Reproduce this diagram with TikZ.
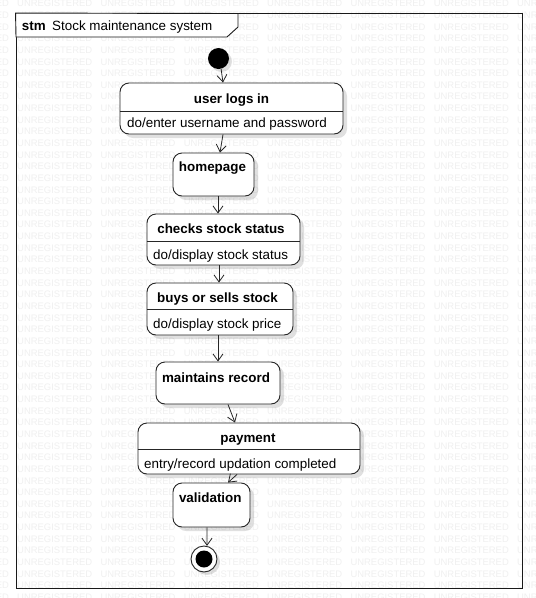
\documentclass[tikz,border=0pt]{standalone}
\usepackage{fontspec}
\setmainfont{Liberation Sans}
\usetikzlibrary{arrows.meta,shadows,calc}
\tikzset{
  statebox/.style={draw=black!85, line width=0.9pt, fill=white, rounded corners=9pt, inner sep=0pt,
    drop shadow={shadow xshift=4pt, shadow yshift=-4pt, opacity=0.12, fill=black}},
  divline/.style={draw=black!85, line width=0.8pt},
  ttl/.style={font=\bfseries\fontsize{13.4}{16}\selectfont, anchor=base, inner sep=0pt},
  bdy/.style={font=\fontsize{13.4}{16}\selectfont, anchor=base west, inner sep=0pt},
  tr/.style={draw=black!85, line width=0.8pt, -{Straight Barb[length=7pt,width=10pt,line width=0.8pt]}},
  wm/.style={font=\fontsize{9.44}{10}\selectfont, text=black!6, anchor=base west, inner sep=0pt},
  framebox/.style={draw=black!90, line width=0.9pt},
}
\begin{document}
\begin{tikzpicture}[x=1pt,y=-1pt]
\useasboundingbox (0,0) rectangle (536,598);
\fill[white] (0,0) rectangle (536,598);
% watermark
\foreach \j in {0,...,51} {
  \foreach \i in {-1,...,6} {
    \node[wm] (wm-\i-\j) at ({17+83.33*\i},{6.8+11.64*\j}) {UNREGISTERED};
  }
}
% frame
\node[framebox, minimum width=506pt, minimum height=574.5pt, inner sep=0pt] (frame) at (269,300.75) {};
\draw[framebox, fill=white] (frame.north west) -- (238,13.5) -- (238,27) -- (227,37) -- (16,37) -- cycle;
\node[anchor=base west, inner sep=0pt, font=\bfseries\fontsize{13.4}{16}\selectfont] (stm) at (21.7,30.7) {stm};
\node[anchor=base west, inner sep=0pt, font=\fontsize{13.4}{16}\selectfont] (ftitle) at (52,30.7) {Stock maintenance system};
% initial
\node[circle, fill=black, minimum size=21pt, inner sep=0pt,
  drop shadow={shadow xshift=3pt, shadow yshift=-3pt, opacity=0.12, fill=black}] (init) at (218.5,58.5) {};
% states
\node[statebox, minimum width=223pt, minimum height=51pt] (ulogin) at (231.5,108.5) {};
\draw[divline] ($(ulogin.north west)+(0,29)$) -- ($(ulogin.north east)+(0,29)$);
\node[ttl] (ulogin-t) at (231.5,103) {user logs in};
\node[bdy] (ulogin-b) at (127,127) {do/enter username and password};

\node[statebox, minimum width=81pt, minimum height=43pt] (home) at (213.5,174.5) {};
\node[ttl] (home-t) at (212.5,171.5) {homepage};

\node[statebox, minimum width=153pt, minimum height=51pt] (checks) at (223.5,239.5) {};
\draw[divline] ($(checks.north west)+(0,28)$) -- ($(checks.north east)+(0,28)$);
\node[ttl] (checks-t) at (221,233.3) {checks stock status};
\node[bdy] (checks-b) at (153,259) {do/display stock status};

\node[statebox, minimum width=146pt, minimum height=52pt] (buys) at (220,309) {};
\draw[divline] ($(buys.north west)+(0,27)$) -- ($(buys.north east)+(0,27)$);
\node[ttl] (buys-t) at (217.5,302.7) {buys or sells stock};
\node[bdy] (buys-b) at (153,328.3) {do/display stock price};

\node[statebox, minimum width=124pt, minimum height=42pt] (maint) at (218,383) {};
\node[ttl] (maint-t) at (216,382.3) {maintains record};

\node[statebox, minimum width=222pt, minimum height=51pt] (pay) at (249,448.5) {};
\draw[divline] ($(pay.north west)+(0,27)$) -- ($(pay.north east)+(0,27)$);
\node[ttl] (pay-t) at (248,442.3) {payment};
\node[bdy] (pay-b) at (144,468.3) {entry/record updation completed};

\node[statebox, minimum width=77pt, minimum height=44pt] (valid) at (211.5,505) {};
\node[ttl] (valid-t) at (210.3,502.7) {validation};

% final
\node[circle, draw=black!85, line width=0.9pt, fill=white, minimum size=26pt, inner sep=0pt,
  drop shadow={shadow xshift=3pt, shadow yshift=-3pt, opacity=0.12, fill=black}] (final) at (204,559) {};
\node[circle, fill=black, minimum size=17pt, inner sep=0pt] (finalin) at (final.center) {};

% transitions
\draw[tr] (init.-76) -- ([xshift=-8.5pt]ulogin.north);
\draw[tr] ([xshift=-8.5pt]ulogin.south) -- ([xshift=6.5pt]home.north);
\draw[tr] ([xshift=4.5pt]home.south) -- ([xshift=-5.5pt]checks.north);
\draw[tr] ([xshift=-4.5pt]checks.south) -- ([xshift=-1pt]buys.north);
\draw[tr] ([xshift=-2pt]buys.south) -- (maint.north);
\draw[tr] ([xshift=10pt]maint.south) -- ([xshift=-14pt]pay.north);
\draw[tr] ([xshift=-12pt]pay.south) -- ([xshift=16.5pt]valid.north);
\draw[tr] ([xshift=-4.5pt]valid.south) -- (final.77);
\end{tikzpicture}
\end{document}
